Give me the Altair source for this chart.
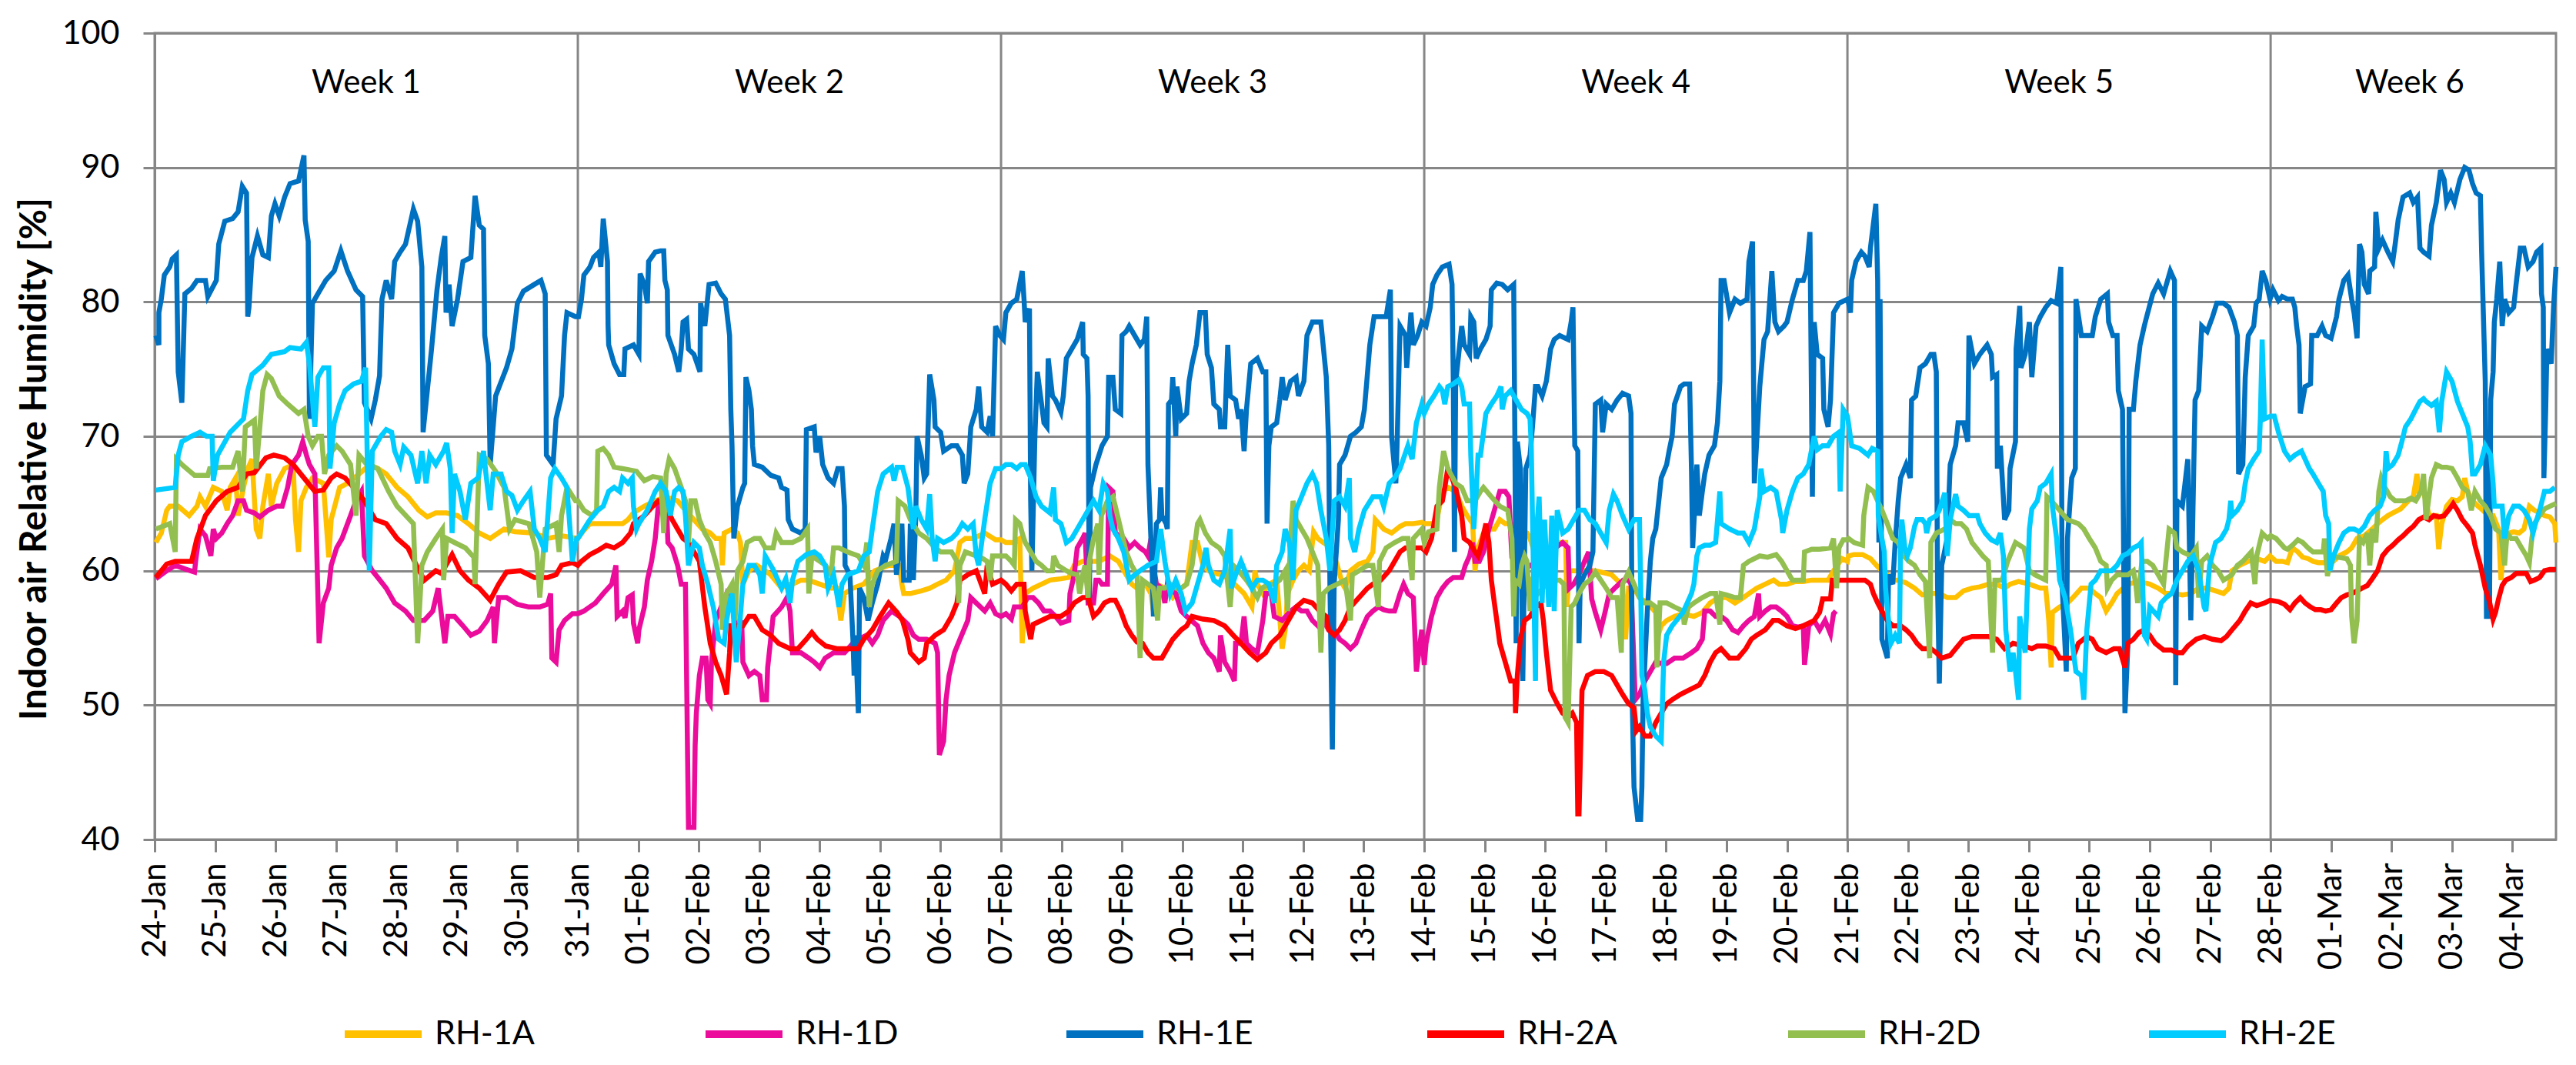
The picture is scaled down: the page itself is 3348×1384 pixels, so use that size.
import altair as alt
import pandas as pd

SERIES = ["RH-1A", "RH-1D", "RH-1E", "RH-2A", "RH-2D", "RH-2E"]
COLORS = ["#FFC000", "#EC0C9C", "#0070C0", "#FF0000", "#92BF50", "#00CCFF"]
GRID = "#868686"
FONT = "Lato"
START = pd.Timestamp("2013-01-24")

# (days since 24-Jan 00:00, relative humidity %)
rh_1a = [
    (0.02, 62.1), (0.11, 62.8), (0.20, 64.5), (0.25, 64.8), (0.39, 64.8), (0.57, 64.1), (0.70, 64.8),
    (0.75, 65.5), (0.84, 64.8), (0.97, 66.2), (1.11, 65.9), (1.20, 64.5), (1.25, 66.2), (1.34, 66.9),
    (1.38, 64.1), (1.47, 66.2), (1.54, 67.6), (1.61, 68.3), (1.68, 63.1), (1.74, 62.4), (1.79, 64.8),
    (1.88, 67.2), (1.93, 64.8), (2.02, 66.5), (2.15, 67.6), (2.29, 67.9), (2.33, 63.8), (2.38, 61.4),
    (2.42, 65.2), (2.51, 66.2), (2.61, 66.9), (2.79, 66.5), (2.88, 61.0), (2.92, 63.8), (3.06, 66.2),
    (3.19, 66.5), (3.38, 67.2), (3.56, 67.9), (3.69, 67.6), (3.83, 67.2), (4.01, 66.2), (4.19, 65.5),
    (4.37, 64.5), (4.51, 64.0), (4.65, 64.3), (4.83, 64.3), (5.01, 64.1), (5.19, 63.5), (5.37, 62.8),
    (5.55, 62.4), (5.78, 63.1), (5.96, 62.9), (6.28, 62.8), (6.50, 62.4), (6.73, 62.6),
    (7.00, 62.4), (7.06, 62.8), (7.20, 63.5), (7.38, 63.5), (7.74, 63.5), (7.83, 63.8), (7.92, 64.3),
    (8.10, 64.8), (8.28, 65.2), (8.46, 65.5), (8.65, 65.2), (8.78, 64.5), (8.92, 63.8), (9.06, 63.1),
    (9.19, 62.8), (9.28, 62.4), (9.37, 62.4), (9.39, 60.4), (9.42, 62.8), (9.55, 63.1), (9.64, 62.8),
    (9.69, 62.1), (9.73, 59.0), (9.83, 60.0), (9.96, 60.4), (10.10, 60.0), (10.19, 59.7), (10.37, 58.7),
    (10.46, 59.0), (10.55, 59.0), (10.69, 59.3), (10.82, 59.3), (11.00, 59.0), (11.19, 58.7), (11.28, 58.7),
    (11.35, 56.3), (11.41, 58.3), (11.55, 58.7), (11.73, 59.0), (11.91, 60.0), (12.14, 60.4), (12.32, 60.4),
    (12.36, 59.0), (12.39, 58.3), (12.50, 58.3), (12.68, 58.5), (12.82, 58.7), (12.95, 59.0), (13.09, 59.3),
    (13.23, 60.0), (13.32, 62.1), (13.41, 62.4), (13.54, 62.4), (13.73, 62.8), (13.91, 62.3),
    (14.00, 62.3), (14.08, 62.1), (14.22, 62.1), (14.31, 62.4), (14.35, 54.6), (14.40, 58.3), (14.53, 58.7),
    (14.67, 59.0), (14.81, 59.3), (14.99, 59.4), (15.12, 59.5), (15.21, 60.4), (15.35, 60.7), (15.48, 60.7),
    (15.62, 60.7), (15.80, 61.1), (15.94, 60.7), (16.07, 59.7), (16.16, 59.0), (16.25, 58.7), (16.39, 59.0),
    (16.48, 58.3), (16.52, 57.0), (16.57, 59.0), (16.71, 58.7), (16.84, 58.0), (16.98, 58.7), (17.07, 59.0),
    (17.16, 62.1), (17.25, 62.1), (17.34, 60.4), (17.43, 60.0), (17.52, 59.8), (17.66, 59.7), (17.79, 59.3),
    (17.93, 58.7), (18.02, 58.3), (18.15, 57.3), (18.20, 60.0), (18.24, 59.0), (18.33, 58.3), (18.43, 59.0),
    (18.56, 59.3), (18.65, 54.2), (18.70, 55.6), (18.74, 58.3), (18.83, 59.3), (18.92, 60.0), (19.01, 60.4),
    (19.10, 60.0), (19.17, 62.9), (19.24, 62.4), (19.33, 62.1), (19.47, 61.7), (19.56, 60.4), (19.65, 59.0),
    (19.69, 58.7), (19.78, 60.0), (19.92, 60.5), (20.06, 60.7), (20.15, 61.4), (20.19, 63.8), (20.33, 63.1),
    (20.46, 62.8), (20.60, 63.3), (20.69, 63.5), (20.82, 63.5), (20.96, 63.6),
    (21.00, 63.5), (21.14, 63.5), (21.21, 63.8), (21.30, 65.9), (21.39, 66.2), (21.52, 65.9), (21.62, 64.8),
    (21.71, 64.1), (21.80, 63.5), (21.84, 60.0), (21.89, 61.7), (21.98, 62.8), (22.07, 63.1), (22.16, 63.1),
    (22.25, 63.8), (22.34, 63.5), (22.43, 63.5), (22.57, 63.1), (22.70, 62.8), (22.75, 62.4), (22.84, 61.1),
    (22.97, 60.4), (23.06, 61.4), (23.20, 62.1), (23.34, 62.1), (23.36, 57.3), (23.40, 60.0), (23.47, 60.0),
    (23.65, 60.0), (23.83, 60.0), (23.92, 59.9), (24.10, 59.7), (24.19, 59.3), (24.28, 59.0), (24.33, 54.9),
    (24.38, 58.7), (24.47, 58.7), (24.56, 58.0), (24.69, 57.6), (24.83, 56.9), (24.87, 55.2), (24.92, 55.9),
    (25.01, 56.3), (25.14, 56.6), (25.28, 56.8), (25.46, 56.6), (25.60, 56.9), (25.73, 57.6), (25.87, 58.0),
    (26.00, 58.0), (26.14, 57.6), (26.28, 58.0), (26.37, 58.3), (26.50, 58.7), (26.64, 59.0), (26.78, 59.3),
    (26.87, 59.0), (27.00, 59.0), (27.14, 59.2), (27.27, 59.2), (27.41, 59.3), (27.54, 59.3), (27.68, 59.3),
    (27.77, 60.0), (27.91, 60.9),
    (28.00, 60.7), (28.02, 61.1), (28.11, 61.2), (28.25, 61.2), (28.38, 60.9), (28.48, 60.4), (28.57, 60.0),
    (28.66, 59.7), (28.75, 59.3), (28.84, 59.3), (28.97, 59.1), (29.11, 58.7), (29.24, 58.2), (29.38, 58.3),
    (29.52, 58.3), (29.65, 58.0), (29.79, 58.0), (29.92, 58.5), (30.06, 58.7), (30.19, 58.8), (30.33, 59.0),
    (30.47, 59.0), (30.60, 58.7), (30.69, 59.0), (30.83, 59.2), (31.01, 59.0), (31.19, 58.7), (31.28, 58.7),
    (31.33, 56.3), (31.37, 52.8), (31.39, 56.9), (31.51, 57.3), (31.64, 57.6), (31.73, 58.0), (31.87, 58.7),
    (32.00, 58.7), (32.10, 58.3), (32.19, 58.0), (32.28, 57.0), (32.37, 57.6), (32.46, 58.3), (32.64, 59.0),
    (32.82, 59.2), (33.00, 59.0), (33.14, 58.7), (33.27, 58.3), (33.41, 58.3), (33.54, 58.2), (33.68, 58.3),
    (33.81, 58.7), (33.95, 58.7), (34.09, 58.5), (34.22, 58.3), (34.31, 58.7), (34.36, 60.0), (34.49, 60.4),
    (34.63, 60.7), (34.77, 60.9), (34.90, 60.7), (34.99, 61.1),
    (35.09, 60.7), (35.19, 60.7), (35.28, 60.6), (35.36, 61.7), (35.45, 61.4), (35.53, 61.0), (35.62, 60.9),
    (35.70, 60.7), (35.79, 60.6), (35.87, 60.6), (35.96, 60.6), (36.04, 60.7), (36.13, 61.1), (36.26, 61.4),
    (36.34, 61.7), (36.43, 62.4), (36.55, 62.6), (36.68, 63.1), (36.77, 63.5), (36.85, 63.8), (36.94, 64.1),
    (37.02, 64.3), (37.15, 64.6), (37.28, 65.2), (37.36, 65.5), (37.42, 67.2), (37.45, 65.9), (37.53, 65.9),
    (37.62, 64.1), (37.74, 64.1), (37.78, 61.6), (37.83, 63.5), (37.91, 64.8), (38.00, 65.3), (38.09, 65.2),
    (38.17, 65.5), (38.21, 66.9), (38.26, 65.9), (38.34, 65.2), (38.43, 64.8), (38.51, 64.5), (38.60, 64.1),
    (38.68, 64.1), (38.77, 63.1), (38.81, 59.3), (38.85, 61.7), (38.94, 62.8), (39.02, 62.9), (39.11, 62.8),
    (39.19, 63.1), (39.28, 64.8), (39.36, 64.5), (39.45, 64.3), (39.53, 64.1), (39.62, 64.0), (39.70, 63.5),
    (39.72, 62.1),
]

rh_1d = [
    (0.02, 59.4), (0.20, 60.0), (0.34, 60.4), (0.52, 60.1), (0.66, 59.9), (0.68, 60.8), (0.75, 63.1),
    (0.84, 62.6), (0.93, 61.1), (0.97, 63.1), (1.02, 62.4), (1.11, 62.8), (1.20, 63.5), (1.29, 64.1),
    (1.38, 65.2), (1.47, 65.2), (1.52, 64.5), (1.65, 64.3), (1.74, 64.0), (1.88, 64.5), (2.02, 64.8),
    (2.11, 64.8), (2.20, 66.2), (2.27, 67.9), (2.38, 68.6), (2.45, 69.6), (2.51, 68.6), (2.56, 67.9),
    (2.65, 67.2), (2.72, 54.6), (2.79, 57.6), (2.88, 58.7), (2.92, 60.4), (3.01, 61.7), (3.10, 62.4),
    (3.24, 64.1), (3.33, 65.2), (3.42, 65.9), (3.47, 61.1), (3.60, 60.0), (3.69, 59.5), (3.83, 58.7),
    (3.97, 57.6), (4.15, 57.0), (4.28, 56.3), (4.46, 56.3), (4.60, 57.0), (4.69, 58.7), (4.80, 54.6),
    (4.85, 56.6), (4.96, 56.6), (5.10, 55.9), (5.23, 55.2), (5.37, 55.5), (5.50, 56.3), (5.60, 57.3),
    (5.62, 54.6), (5.69, 58.0), (5.82, 58.0), (6.00, 57.5), (6.19, 57.3), (6.37, 57.3), (6.50, 57.5),
    (6.55, 58.3), (6.57, 53.5), (6.64, 53.2), (6.69, 55.6), (6.78, 56.3), (6.91, 56.8),
    (7.00, 56.8), (7.10, 57.0), (7.29, 57.6), (7.42, 58.3), (7.56, 59.0), (7.63, 60.4), (7.65, 56.6),
    (7.74, 57.0), (7.78, 56.5), (7.83, 58.0), (7.90, 58.2), (7.92, 56.1), (7.99, 54.6), (8.01, 55.6),
    (8.10, 57.3), (8.15, 59.3), (8.22, 60.7), (8.28, 62.4), (8.33, 64.8), (8.37, 65.2), (8.46, 65.5),
    (8.49, 62.1), (8.56, 61.7), (8.65, 60.4), (8.71, 59.0), (8.78, 59.0), (8.83, 40.9), (8.92, 40.9),
    (8.94, 47.0), (8.96, 49.4), (9.01, 52.2), (9.06, 53.5), (9.12, 53.5), (9.15, 50.4), (9.19, 50.1),
    (9.21, 53.2), (9.28, 56.3), (9.37, 57.3), (9.46, 58.3), (9.55, 57.6), (9.64, 55.2), (9.71, 56.3),
    (9.73, 53.2), (9.83, 52.2), (9.92, 52.5), (10.01, 52.2), (10.05, 50.4), (10.12, 50.4), (10.14, 52.8),
    (10.19, 54.9), (10.23, 56.6), (10.37, 57.3), (10.46, 58.0), (10.51, 57.0), (10.55, 53.9), (10.69, 53.9),
    (10.82, 53.5), (10.91, 53.2), (11.00, 52.8), (11.09, 53.5), (11.23, 53.9), (11.41, 53.9), (11.55, 54.6),
    (11.64, 54.9), (11.78, 55.2), (11.87, 54.6), (11.96, 55.2), (12.05, 56.3), (12.19, 57.0), (12.32, 56.6),
    (12.46, 56.0), (12.55, 55.2), (12.64, 54.9), (12.77, 54.9), (12.91, 54.6), (12.95, 53.9), (12.98, 46.3),
    (13.05, 47.3), (13.09, 50.4), (13.14, 52.2), (13.23, 53.9), (13.32, 54.9), (13.45, 56.3), (13.50, 58.0),
    (13.59, 57.6), (13.73, 57.0), (13.82, 57.6), (13.91, 56.8),
    (14.00, 56.6), (14.08, 56.8), (14.17, 56.4), (14.22, 57.3), (14.35, 57.3), (14.44, 58.0), (14.53, 58.0),
    (14.62, 57.6), (14.71, 57.0), (14.81, 57.0), (14.90, 56.6), (14.99, 56.1), (15.12, 56.3), (15.14, 58.3),
    (15.21, 59.7), (15.26, 61.7), (15.35, 62.4), (15.39, 62.8), (15.44, 57.6), (15.53, 57.6), (15.57, 59.3),
    (15.62, 59.3), (15.67, 59.0), (15.76, 59.0), (15.78, 66.2), (15.85, 65.9), (15.89, 62.8), (16.03, 62.4),
    (16.12, 61.7), (16.21, 62.1), (16.30, 61.7), (16.39, 61.4), (16.43, 61.1), (16.48, 62.4), (16.52, 60.4),
    (16.57, 59.0), (16.66, 58.7), (16.71, 57.6), (16.75, 59.0), (16.89, 58.3), (16.98, 57.0), (17.07, 56.6),
    (17.25, 55.9), (17.34, 54.6), (17.43, 53.9), (17.52, 53.5), (17.61, 52.5), (17.63, 55.2), (17.70, 53.2),
    (17.79, 52.5), (17.86, 51.8), (17.88, 54.6), (17.97, 54.6), (18.02, 56.6), (18.06, 54.6), (18.15, 54.2),
    (18.24, 53.9), (18.33, 56.3), (18.38, 58.3), (18.47, 58.3), (18.52, 56.6), (18.65, 56.3), (18.79, 57.0),
    (18.88, 57.3), (18.97, 57.0), (19.06, 57.0), (19.15, 56.3), (19.24, 55.9), (19.33, 56.3), (19.42, 55.6),
    (19.51, 55.6), (19.60, 54.9), (19.69, 54.6), (19.78, 54.2), (19.87, 54.6), (19.96, 55.6), (20.06, 56.6),
    (20.15, 57.0), (20.24, 57.3), (20.33, 57.1), (20.42, 57.0), (20.51, 57.0), (20.60, 58.3), (20.66, 59.0),
    (20.73, 58.3), (20.82, 58.0), (20.87, 52.5), (20.91, 53.9), (20.96, 55.6),
    (21.00, 53.0), (21.03, 54.6), (21.12, 56.6), (21.21, 58.0), (21.30, 58.7), (21.39, 59.2), (21.48, 59.5),
    (21.62, 59.5), (21.68, 60.4), (21.75, 61.1), (21.80, 62.1), (21.84, 60.7), (21.91, 60.7), (21.98, 61.4),
    (22.07, 63.1), (22.16, 64.5), (22.25, 65.9), (22.34, 65.9), (22.40, 65.5), (22.45, 61.0), (22.60, 60.0),
    (22.80, 60.5), (23.00, 61.0), (23.08, 61.4), (23.29, 62.1), (23.38, 61.7), (23.40, 58.7), (23.47, 59.0),
    (23.56, 59.7), (23.65, 60.7), (23.72, 61.4), (23.77, 57.9), (23.83, 56.9), (23.92, 55.6), (23.99, 56.9),
    (24.06, 58.3), (24.15, 58.7), (24.29, 59.3), (24.38, 59.3), (24.42, 59.0), (24.49, 50.4), (24.56, 50.8),
    (24.65, 51.8), (24.74, 52.5), (24.83, 53.2), (24.92, 53.1), (25.01, 53.1), (25.14, 53.5), (25.28, 53.5),
    (25.42, 53.9), (25.51, 54.2), (25.60, 54.9), (25.64, 57.0), (25.73, 57.0), (25.82, 56.6), (25.91, 56.6),
    (26.00, 56.3), (26.10, 55.6), (26.19, 55.4), (26.28, 55.9), (26.37, 56.3), (26.46, 56.6), (26.53, 58.3),
    (26.55, 56.6), (26.64, 57.0), (26.73, 57.3), (26.82, 57.3), (26.91, 57.0), (27.00, 56.6), (27.09, 55.9),
    (27.18, 55.8), (27.27, 55.9), (27.29, 53.0), (27.36, 55.9), (27.45, 56.3), (27.54, 55.6), (27.63, 56.3),
    (27.72, 55.3), (27.77, 56.8), (27.81, 57.0),
]

rh_1e = [
    (0.02, 77.5), (0.07, 76.8), (0.07, 79.2), (0.11, 80.2), (0.16, 82.0), (0.25, 82.6), (0.29, 83.2),
    (0.36, 83.5), (0.39, 74.8), (0.45, 72.5), (0.50, 80.6), (0.61, 81.0), (0.70, 81.6), (0.84, 81.6),
    (0.88, 80.4), (1.02, 81.6), (1.06, 84.3), (1.16, 86.0), (1.29, 86.2), (1.38, 86.7), (1.45, 88.6),
    (1.52, 88.1), (1.54, 78.9), (1.56, 79.6), (1.61, 83.3), (1.70, 84.9), (1.79, 83.5), (1.88, 83.3),
    (1.93, 86.4), (1.99, 87.3), (2.06, 86.4), (2.15, 87.8), (2.24, 88.8), (2.38, 89.0), (2.47, 90.9),
    (2.49, 86.1), (2.54, 84.5), (2.56, 71.3), (2.61, 79.9), (2.70, 80.6), (2.83, 81.6), (2.97, 82.3),
    (3.08, 83.8), (3.19, 82.3), (3.33, 80.9), (3.44, 80.4), (3.47, 72.5), (3.58, 71.3), (3.65, 72.7),
    (3.72, 74.5), (3.76, 80.2), (3.83, 81.6), (3.92, 80.2), (3.97, 83.0), (4.06, 83.7), (4.15, 84.3),
    (4.28, 86.9), (4.35, 86.0), (4.42, 82.6), (4.44, 70.3), (4.51, 73.4), (4.58, 76.5), (4.67, 80.9),
    (4.74, 83.3), (4.80, 84.9), (4.82, 79.2), (4.87, 81.3), (4.92, 78.2), (5.01, 80.2), (5.10, 83.0),
    (5.23, 83.3), (5.30, 87.9), (5.37, 85.7), (5.44, 85.4), (5.46, 77.5), (5.52, 75.4), (5.55, 67.9),
    (5.64, 73.0), (5.82, 75.1), (5.91, 76.5), (6.00, 79.9), (6.10, 80.8), (6.28, 81.3), (6.39, 81.6),
    (6.46, 80.6), (6.48, 68.6), (6.59, 67.9), (6.64, 71.3), (6.73, 73.0), (6.78, 77.5), (6.82, 79.2),
    (6.96, 78.9),
    (7.01, 78.9), (7.06, 80.2), (7.10, 82.0), (7.20, 82.6), (7.26, 83.3), (7.35, 83.7), (7.38, 82.6),
    (7.42, 86.2), (7.49, 83.0), (7.50, 78.2), (7.51, 76.8), (7.60, 75.4), (7.69, 74.6), (7.76, 74.6),
    (7.78, 76.5), (7.92, 76.8), (8.01, 76.1), (8.03, 82.1), (8.10, 81.3), (8.15, 79.9), (8.17, 83.0),
    (8.28, 83.7), (8.37, 83.8), (8.42, 83.8), (8.44, 81.6), (8.48, 80.9), (8.49, 77.5), (8.60, 76.1),
    (8.67, 74.8), (8.71, 76.5), (8.74, 78.5), (8.80, 78.7), (8.83, 76.5), (8.92, 76.1), (9.02, 74.8),
    (9.03, 79.9), (9.10, 78.2), (9.17, 81.3), (9.28, 81.4), (9.37, 80.6), (9.44, 80.2), (9.51, 77.5),
    (9.53, 72.0), (9.55, 69.3), (9.58, 62.4), (9.64, 64.8), (9.73, 66.2), (9.76, 66.5), (9.78, 74.4),
    (9.83, 73.4), (9.87, 72.0), (9.89, 69.3), (9.92, 67.9), (10.05, 67.7), (10.19, 67.1), (10.32, 66.9),
    (10.37, 66.2), (10.46, 66.0), (10.48, 63.8), (10.55, 63.1), (10.69, 62.8), (10.76, 63.1), (10.78, 70.5),
    (10.91, 70.7), (10.94, 68.8), (11.00, 70.0), (11.05, 67.9), (11.14, 66.9), (11.23, 66.5), (11.30, 67.6),
    (11.37, 67.6), (11.41, 64.8), (11.42, 60.4), (11.50, 59.7), (11.55, 54.9), (11.57, 52.2), (11.59, 55.2),
    (11.64, 49.4), (11.66, 58.7), (11.73, 58.0), (11.80, 56.3), (11.87, 57.6), (11.96, 59.0), (12.05, 61.1),
    (12.09, 60.8), (12.18, 62.4), (12.23, 63.5), (12.27, 59.7), (12.36, 63.5), (12.39, 59.3), (12.48, 59.3),
    (12.50, 63.5), (12.55, 59.3), (12.59, 64.1), (12.61, 70.0), (12.68, 68.6), (12.73, 66.9), (12.77, 67.2),
    (12.82, 74.6), (12.89, 72.7), (12.91, 70.7), (13.00, 70.3), (13.05, 68.9), (13.18, 69.3), (13.27, 69.3),
    (13.36, 68.6), (13.39, 66.5), (13.45, 67.2), (13.50, 70.7), (13.59, 72.0), (13.63, 73.7), (13.68, 70.7),
    (13.77, 70.3), (13.82, 71.5), (13.86, 70.0), (13.91, 78.2), (13.98, 77.5),
    (14.04, 77.2), (14.08, 79.2), (14.17, 79.9), (14.26, 80.2), (14.35, 82.3), (14.38, 80.2), (14.40, 78.5),
    (14.47, 79.5), (14.49, 65.2), (14.51, 60.0), (14.56, 70.0), (14.60, 74.8), (14.67, 72.4), (14.71, 71.0),
    (14.76, 70.7), (14.78, 75.8), (14.85, 73.0), (14.90, 72.7), (14.99, 71.8), (15.03, 73.0), (15.08, 75.8),
    (15.17, 76.5), (15.26, 77.2), (15.35, 78.5), (15.36, 76.1), (15.42, 75.8), (15.44, 73.0), (15.46, 57.6),
    (15.48, 66.2), (15.57, 67.9), (15.67, 69.3), (15.76, 70.0), (15.78, 74.4), (15.85, 74.4), (15.89, 72.0),
    (15.98, 71.7), (16.00, 77.5), (16.07, 77.8), (16.12, 78.2), (16.21, 77.5), (16.30, 76.8), (16.37, 77.2),
    (16.41, 78.9), (16.43, 67.9), (16.50, 60.0), (16.52, 56.6), (16.57, 63.5), (16.62, 63.8), (16.64, 66.2),
    (16.66, 64.1), (16.73, 63.5), (16.75, 63.1), (16.77, 72.4), (16.82, 72.7), (16.84, 74.4), (16.89, 70.0),
    (16.91, 73.7), (16.98, 71.3), (17.07, 71.7), (17.11, 74.1), (17.16, 75.4), (17.23, 76.8), (17.29, 79.2),
    (17.38, 79.2), (17.41, 76.1), (17.48, 75.1), (17.52, 72.4), (17.61, 72.0), (17.63, 70.7), (17.70, 70.7),
    (17.75, 76.8), (17.79, 73.0), (17.88, 72.7), (17.93, 71.3), (17.97, 72.0), (18.02, 68.9), (18.06, 72.0),
    (18.13, 75.4), (18.24, 75.8), (18.33, 74.8), (18.38, 74.8), (18.40, 63.5), (18.43, 69.3), (18.47, 70.7),
    (18.56, 71.0), (18.61, 72.7), (18.65, 74.4), (18.70, 72.7), (18.79, 74.1), (18.88, 74.4), (18.92, 73.0),
    (19.01, 74.1), (19.06, 77.5), (19.15, 78.5), (19.29, 78.5), (19.38, 74.4), (19.42, 69.3), (19.44, 59.0),
    (19.48, 46.7), (19.51, 59.0), (19.58, 63.8), (19.60, 67.9), (19.69, 68.6), (19.78, 70.0), (19.87, 70.3),
    (19.96, 70.7), (20.01, 72.0), (20.05, 74.1), (20.10, 76.8), (20.17, 78.9), (20.28, 78.9), (20.37, 78.9),
    (20.44, 80.9), (20.46, 70.0), (20.53, 66.5), (20.55, 69.3), (20.60, 78.2), (20.69, 77.5), (20.71, 75.1),
    (20.78, 79.2), (20.82, 76.8), (20.89, 77.5), (20.96, 78.5),
    (21.03, 78.2), (21.10, 79.6), (21.14, 81.3), (21.21, 82.0), (21.30, 82.6), (21.41, 82.8), (21.46, 81.3),
    (21.48, 74.4), (21.50, 61.4), (21.52, 74.0), (21.57, 76.1), (21.62, 78.2), (21.66, 76.8), (21.75, 76.1),
    (21.77, 78.9), (21.82, 78.5), (21.86, 75.8), (21.93, 76.5), (22.02, 77.2), (22.09, 78.2), (22.11, 80.9),
    (22.20, 81.4), (22.29, 81.3), (22.38, 80.9), (22.48, 81.3), (22.50, 69.3), (22.52, 54.6), (22.54, 69.6),
    (22.59, 67.6), (22.63, 51.8), (22.68, 67.6), (22.75, 68.6), (22.79, 70.7), (22.84, 73.7), (22.88, 73.7),
    (22.95, 73.0), (23.02, 74.1), (23.09, 76.5), (23.15, 77.2), (23.24, 77.5), (23.38, 77.2), (23.43, 78.5),
    (23.46, 79.6), (23.49, 69.3), (23.54, 68.9), (23.56, 54.6), (23.58, 59.0), (23.65, 59.7), (23.74, 60.4),
    (23.79, 61.4), (23.83, 72.4), (23.92, 72.7), (23.95, 70.3), (24.01, 72.4), (24.10, 72.0), (24.19, 72.7),
    (24.28, 73.2), (24.38, 73.0), (24.42, 71.7), (24.44, 50.4), (24.47, 43.9), (24.53, 41.5), (24.58, 41.5),
    (24.60, 43.9), (24.62, 50.4), (24.69, 57.0), (24.74, 60.7), (24.78, 62.4), (24.83, 63.1), (24.92, 66.9),
    (25.01, 67.9), (25.05, 68.9), (25.10, 70.0), (25.14, 72.4), (25.24, 73.7), (25.30, 73.9), (25.39, 73.9),
    (25.42, 67.6), (25.44, 61.7), (25.51, 67.9), (25.55, 64.1), (25.60, 65.9), (25.64, 67.2), (25.71, 68.6),
    (25.80, 69.3), (25.85, 71.0), (25.89, 74.1), (25.91, 81.6), (25.96, 81.6), (26.05, 79.2), (26.14, 80.2),
    (26.23, 79.9), (26.34, 80.2), (26.37, 83.0), (26.43, 84.5), (26.46, 66.5), (26.55, 73.7), (26.62, 77.2),
    (26.68, 77.8), (26.75, 82.3), (26.80, 78.5), (26.86, 77.8), (26.95, 78.2), (27.00, 78.5), (27.09, 80.2),
    (27.18, 81.6), (27.27, 81.6), (27.32, 82.3), (27.38, 85.2), (27.42, 65.5), (27.45, 78.5), (27.50, 76.1),
    (27.59, 75.8), (27.61, 72.0), (27.68, 70.7), (27.72, 72.7), (27.77, 79.2), (27.86, 79.9), (28.00, 80.2),
    (28.02, 79.9), (28.05, 79.2), (28.07, 81.6), (28.14, 83.0), (28.23, 83.7), (28.29, 83.4), (28.36, 82.6),
    (28.38, 84.0), (28.47, 87.3), (28.50, 81.6), (28.52, 62.1), (28.54, 80.2), (28.57, 54.9), (28.66, 53.5),
    (28.68, 59.7), (28.75, 59.0), (28.79, 62.1), (28.84, 65.2), (28.88, 66.9), (28.97, 67.9), (29.04, 66.9),
    (29.06, 72.7), (29.13, 73.0), (29.20, 75.1), (29.29, 75.4), (29.38, 76.1), (29.43, 76.1), (29.47, 74.8),
    (29.49, 59.0), (29.52, 51.6), (29.56, 60.4), (29.65, 62.4), (29.70, 67.9), (29.79, 69.3), (29.83, 71.0),
    (29.92, 71.0), (29.99, 69.6), (30.01, 77.5), (30.10, 75.4), (30.19, 76.1), (30.31, 76.8), (30.38, 76.1),
    (30.40, 74.4), (30.47, 74.6), (30.48, 67.6), (30.53, 69.3), (30.60, 63.8), (30.67, 64.5), (30.69, 67.6),
    (30.78, 69.6), (30.79, 76.5), (30.85, 79.7), (30.87, 75.1), (30.94, 76.1), (31.01, 78.5), (31.05, 74.4),
    (31.12, 78.2), (31.19, 78.9), (31.28, 79.6), (31.37, 80.1), (31.46, 79.9), (31.53, 82.6), (31.55, 59.0),
    (31.62, 52.5), (31.64, 62.4), (31.71, 66.9), (31.77, 67.6), (31.78, 80.2), (31.87, 77.5), (31.96, 77.5),
    (32.05, 77.5), (32.10, 78.9), (32.19, 80.2), (32.30, 80.6), (32.32, 78.5), (32.39, 77.5), (32.46, 77.5),
    (32.48, 73.4), (32.55, 72.0), (32.59, 49.4), (32.64, 54.6), (32.66, 72.0), (32.73, 72.0), (32.77, 74.1),
    (32.84, 76.8), (32.91, 78.2), (32.95, 78.9), (33.05, 80.6), (33.14, 81.4), (33.23, 80.6), (33.34, 82.3),
    (33.41, 81.6), (33.43, 51.5), (33.45, 65.2), (33.54, 64.8), (33.63, 68.3), (33.68, 56.3), (33.75, 72.7),
    (33.81, 73.4), (33.86, 78.2), (33.95, 77.8), (34.04, 78.9), (34.11, 79.9), (34.22, 79.9), (34.31, 79.6),
    (34.40, 78.5), (34.45, 77.5), (34.47, 67.2), (34.54, 67.9), (34.58, 74.4), (34.63, 77.5), (34.72, 78.2),
    (34.76, 79.9), (34.81, 80.2), (34.86, 82.3), (34.92, 81.6), (34.99, 80.2),
    (35.04, 80.9), (35.13, 80.1), (35.19, 80.4), (35.28, 80.2), (35.36, 80.2), (35.40, 79.6), (35.43, 78.2),
    (35.47, 76.8), (35.49, 71.7), (35.53, 72.7), (35.57, 73.7), (35.66, 73.9), (35.68, 77.5), (35.77, 77.5),
    (35.85, 78.2), (35.91, 77.5), (36.00, 77.3), (36.09, 78.9), (36.13, 80.2), (36.21, 81.6), (36.28, 82.0),
    (36.34, 80.2), (36.38, 79.2), (36.43, 77.3), (36.47, 84.3), (36.51, 83.7), (36.55, 81.3), (36.62, 80.6),
    (36.64, 82.3), (36.72, 82.6), (36.74, 86.7), (36.79, 84.0), (36.85, 84.6), (36.94, 83.7), (37.02, 83.0),
    (37.06, 84.3), (37.11, 86.1), (37.19, 87.8), (37.30, 88.1), (37.36, 87.4), (37.43, 87.8), (37.47, 84.0),
    (37.53, 83.7), (37.62, 83.4), (37.66, 85.7), (37.74, 87.4), (37.81, 89.8), (37.87, 89.1), (37.91, 87.4),
    (37.98, 88.1), (38.04, 87.4), (38.13, 89.1), (38.21, 90.0), (38.28, 89.8), (38.34, 88.8), (38.40, 88.1),
    (38.47, 87.9), (38.49, 83.7), (38.55, 74.1), (38.57, 56.6), (38.62, 56.6), (38.64, 72.7), (38.68, 74.8),
    (38.70, 78.5), (38.74, 80.2), (38.79, 83.0), (38.83, 78.2), (38.87, 80.2), (38.94, 79.2), (39.02, 79.6),
    (39.06, 81.3), (39.13, 84.0), (39.19, 84.0), (39.26, 82.6), (39.34, 83.0), (39.40, 83.7), (39.47, 84.0),
    (39.48, 80.6), (39.51, 79.6), (39.52, 66.9), (39.55, 72.0), (39.57, 76.5), (39.64, 75.4), (39.68, 79.6),
    (39.72, 82.6),
]

rh_2a = [
    (0.02, 59.5), (0.20, 60.5), (0.34, 60.7), (0.61, 60.7), (0.70, 62.4), (0.84, 64.1), (1.02, 65.2),
    (1.20, 65.9), (1.38, 66.2), (1.52, 67.2), (1.65, 67.3), (1.84, 68.4), (1.97, 68.6), (2.15, 68.4),
    (2.29, 67.9), (2.47, 66.9), (2.65, 65.9), (2.79, 66.0), (2.92, 66.9), (3.01, 67.2), (3.15, 66.9),
    (3.29, 66.2), (3.47, 65.2), (3.65, 63.8), (3.83, 63.5), (4.01, 62.4), (4.19, 61.7), (4.33, 60.4),
    (4.46, 59.3), (4.65, 60.0), (4.74, 59.8), (4.92, 61.2), (5.05, 60.0), (5.19, 59.3), (5.37, 58.7),
    (5.55, 57.8), (5.69, 59.0), (5.82, 59.9), (6.05, 60.0), (6.28, 59.5), (6.50, 59.5), (6.64, 59.7),
    (6.73, 60.4), (6.91, 60.6),
    (7.00, 60.4), (7.06, 60.7), (7.20, 61.2), (7.33, 61.5), (7.47, 61.9), (7.60, 61.7), (7.74, 62.1),
    (7.87, 62.8), (7.92, 63.5), (8.10, 64.1), (8.24, 64.8), (8.33, 65.2), (8.46, 64.8), (8.56, 63.8),
    (8.65, 63.1), (8.74, 62.4), (8.83, 62.1), (8.92, 61.4), (9.01, 60.7), (9.10, 57.3), (9.19, 54.6),
    (9.28, 53.2), (9.37, 52.2), (9.46, 50.8), (9.51, 53.9), (9.53, 55.9), (9.64, 55.9), (9.73, 55.9),
    (9.83, 56.6), (9.92, 56.6), (10.05, 55.6), (10.19, 55.2), (10.32, 54.6), (10.51, 54.2), (10.64, 54.2),
    (10.78, 54.9), (10.87, 55.4), (10.96, 54.9), (11.10, 54.4), (11.28, 54.2), (11.46, 54.2), (11.64, 54.2),
    (11.73, 54.9), (11.87, 55.6), (12.00, 56.6), (12.14, 57.6), (12.28, 56.9), (12.37, 56.3), (12.46, 54.9),
    (12.50, 53.9), (12.64, 53.2), (12.73, 53.5), (12.77, 54.6), (12.91, 55.2), (13.05, 55.6), (13.18, 56.6),
    (13.27, 57.6), (13.32, 59.3), (13.45, 59.7), (13.59, 60.0), (13.73, 58.3), (13.77, 60.4), (13.86, 59.0),
    (14.00, 59.3), (14.08, 59.0), (14.17, 58.5), (14.26, 59.0), (14.35, 59.0), (14.38, 59.0), (14.40, 57.0),
    (14.49, 54.9), (14.53, 56.0), (14.67, 56.3), (14.81, 56.6), (14.99, 56.6), (15.12, 57.0), (15.21, 57.6),
    (15.35, 58.0), (15.44, 58.0), (15.53, 56.6), (15.62, 57.0), (15.71, 57.6), (15.80, 57.8), (15.89, 57.8),
    (15.98, 57.0), (16.07, 55.9), (16.16, 55.2), (16.25, 54.7), (16.34, 54.6), (16.43, 53.9), (16.52, 53.5),
    (16.66, 53.5), (16.75, 54.2), (16.84, 54.9), (16.98, 55.6), (17.07, 55.9), (17.16, 56.6), (17.34, 56.4),
    (17.52, 56.3), (17.70, 55.9), (17.84, 55.2), (17.97, 54.6), (18.11, 53.9), (18.24, 53.4), (18.38, 53.9),
    (18.47, 54.6), (18.61, 55.2), (18.70, 55.9), (18.79, 56.6), (18.88, 57.3), (19.01, 57.8), (19.15, 57.6),
    (19.29, 56.9), (19.38, 56.6), (19.42, 55.6), (19.51, 55.2), (19.60, 55.6), (19.69, 56.3), (19.78, 57.3),
    (19.92, 58.0), (20.06, 58.7), (20.15, 59.0), (20.28, 59.3), (20.42, 60.0), (20.51, 60.7), (20.60, 61.4),
    (20.69, 61.7), (20.78, 61.7), (20.96, 61.7),
    (21.03, 61.4), (21.12, 62.4), (21.21, 64.8), (21.30, 65.2), (21.34, 66.2), (21.39, 67.6), (21.43, 67.2),
    (21.52, 66.2), (21.62, 64.1), (21.66, 62.4), (21.75, 62.1), (21.84, 61.4), (21.89, 61.1), (21.93, 61.7),
    (22.02, 63.5), (22.07, 62.1), (22.11, 59.3), (22.16, 57.6), (22.20, 56.3), (22.25, 54.6), (22.34, 53.2),
    (22.43, 51.8), (22.50, 51.8), (22.51, 49.4), (22.54, 52.2), (22.59, 54.9), (22.66, 56.3), (22.75, 56.6),
    (22.84, 57.3), (22.93, 57.6), (22.97, 56.3), (23.02, 53.9), (23.09, 51.1), (23.20, 50.1), (23.29, 49.4),
    (23.38, 49.1), (23.45, 49.4), (23.52, 48.7), (23.54, 41.9), (23.56, 41.9), (23.61, 51.1), (23.70, 52.2),
    (23.83, 52.5), (23.97, 52.5), (24.10, 52.2), (24.19, 51.5), (24.28, 50.8), (24.38, 50.1), (24.47, 49.8),
    (24.51, 48.1), (24.56, 48.4), (24.65, 47.7), (24.74, 47.7), (24.83, 48.7), (24.92, 49.4), (25.01, 50.1),
    (25.10, 50.4), (25.24, 50.8), (25.37, 51.1), (25.55, 51.5), (25.64, 52.2), (25.73, 53.2), (25.82, 53.9),
    (25.91, 54.2), (26.05, 53.5), (26.19, 53.5), (26.32, 54.2), (26.41, 54.9), (26.50, 55.2), (26.64, 55.6),
    (26.77, 56.3), (26.86, 56.3), (27.00, 55.9), (27.14, 55.7), (27.27, 55.9), (27.45, 56.3), (27.54, 56.9),
    (27.59, 57.9), (27.72, 57.9), (27.75, 59.3), (27.86, 59.3), (28.00, 59.3),
    (28.02, 59.3), (28.16, 59.3), (28.29, 59.3), (28.38, 59.0), (28.43, 58.3), (28.50, 57.6), (28.57, 57.0),
    (28.66, 56.3), (28.75, 55.9), (28.88, 55.9), (28.97, 55.6), (29.06, 55.2), (29.15, 54.6), (29.24, 54.2),
    (29.38, 54.2), (29.47, 53.9), (29.56, 53.5), (29.70, 53.7), (29.79, 54.2), (29.92, 54.9), (30.06, 55.1),
    (30.19, 55.1), (30.33, 55.1), (30.47, 54.9), (30.60, 54.2), (30.74, 54.6), (30.92, 54.4), (31.05, 54.2),
    (31.14, 54.4), (31.28, 54.4), (31.42, 54.2), (31.51, 53.5), (31.64, 53.5), (31.73, 53.5), (31.82, 54.6),
    (31.96, 55.1), (32.05, 54.9), (32.14, 54.2), (32.28, 53.9), (32.41, 54.2), (32.50, 54.2), (32.59, 52.8),
    (32.64, 54.6), (32.73, 54.9), (32.82, 55.4), (32.91, 55.6), (33.00, 55.2), (33.09, 54.6), (33.23, 54.1),
    (33.36, 54.1), (33.45, 53.9), (33.54, 53.9), (33.63, 54.4), (33.77, 54.9), (33.90, 55.1), (34.04, 54.9),
    (34.18, 54.8), (34.27, 55.1), (34.36, 55.6), (34.49, 56.3), (34.58, 57.0), (34.67, 57.6), (34.77, 57.4),
    (34.90, 57.6), (34.99, 57.8),
    (35.13, 57.7), (35.23, 57.5), (35.32, 57.1), (35.40, 57.6), (35.49, 58.0), (35.57, 57.6), (35.66, 57.3),
    (35.74, 57.1), (35.83, 57.1), (35.91, 57.0), (36.00, 57.1), (36.09, 57.6), (36.17, 58.0), (36.26, 58.2),
    (36.34, 58.3), (36.43, 58.5), (36.51, 58.7), (36.60, 58.9), (36.68, 59.4), (36.77, 60.0), (36.85, 61.1),
    (36.94, 61.6), (37.02, 61.9), (37.11, 62.3), (37.19, 62.6), (37.28, 63.0), (37.36, 63.3), (37.45, 63.8),
    (37.53, 64.0), (37.62, 63.8), (37.70, 64.1), (37.79, 64.0), (37.87, 64.1), (37.96, 64.6), (38.02, 65.0),
    (38.09, 64.5), (38.17, 63.8), (38.26, 63.3), (38.34, 62.8), (38.38, 61.9), (38.47, 60.4), (38.55, 58.7),
    (38.62, 57.7), (38.68, 56.4), (38.72, 56.9), (38.77, 57.9), (38.83, 58.9), (38.89, 59.3), (38.98, 59.5),
    (39.06, 59.8), (39.15, 59.8), (39.23, 59.8), (39.30, 59.2), (39.36, 59.3), (39.45, 59.5), (39.53, 60.0),
    (39.62, 60.1), (39.72, 60.1),
]

rh_2d = [
    (0.02, 63.1), (0.25, 63.5), (0.34, 61.4), (0.36, 68.3), (0.45, 67.9), (0.66, 67.1), (0.88, 67.1),
    (0.91, 67.6), (1.11, 67.7), (1.29, 67.7), (1.38, 68.9), (1.45, 65.9), (1.50, 70.7), (1.65, 71.2),
    (1.68, 67.6), (1.74, 70.7), (1.79, 73.4), (1.86, 74.6), (1.93, 74.3), (2.06, 73.0), (2.20, 72.4),
    (2.38, 71.7), (2.47, 72.0), (2.54, 70.0), (2.61, 69.3), (2.70, 70.0), (2.76, 70.0), (2.81, 67.2),
    (2.88, 68.6), (3.01, 69.3), (3.10, 68.9), (3.24, 67.9), (3.33, 64.1), (3.38, 68.6), (3.51, 67.9),
    (3.69, 67.6), (3.87, 65.9), (4.01, 64.8), (4.28, 63.5), (4.35, 54.6), (4.42, 60.4), (4.51, 61.4),
    (4.65, 62.4), (4.76, 63.1), (4.78, 59.3), (4.83, 62.4), (4.96, 62.1), (5.14, 61.7), (5.28, 61.0),
    (5.30, 59.0), (5.37, 68.6), (5.50, 68.3), (5.64, 67.4), (5.78, 66.2), (5.87, 63.1), (5.96, 63.8),
    (6.19, 63.5), (6.32, 61.4), (6.37, 58.0), (6.46, 63.1), (6.64, 63.5), (6.69, 61.4), (6.73, 64.1),
    (6.82, 66.2), (6.96, 65.2),
    (7.00, 65.2), (7.10, 64.5), (7.24, 64.1), (7.31, 64.5), (7.33, 68.9), (7.42, 69.1), (7.51, 68.6),
    (7.60, 67.7), (7.74, 67.6), (7.97, 67.4), (8.10, 66.7), (8.24, 67.0), (8.37, 66.9), (8.42, 62.8),
    (8.46, 67.2), (8.51, 68.3), (8.60, 67.6), (8.71, 66.2), (8.78, 65.2), (8.83, 62.1), (8.87, 65.2),
    (8.94, 65.2), (9.01, 63.8), (9.10, 62.8), (9.19, 62.1), (9.28, 60.7), (9.37, 59.0), (9.39, 55.6),
    (9.46, 58.3), (9.55, 59.0), (9.60, 56.3), (9.64, 60.0), (9.73, 60.7), (9.80, 62.1), (9.92, 62.4),
    (10.01, 62.4), (10.10, 61.7), (10.23, 61.7), (10.28, 62.8), (10.37, 62.1), (10.55, 62.1), (10.69, 62.4),
    (10.80, 63.1), (10.82, 58.3), (10.87, 61.1), (11.00, 60.7), (11.10, 60.4), (11.19, 59.7), (11.23, 61.7),
    (11.32, 61.7), (11.46, 61.4), (11.64, 61.1), (11.73, 60.4), (11.78, 62.1), (11.82, 57.3), (11.87, 59.0),
    (11.96, 60.0), (12.09, 60.4), (12.27, 60.7), (12.30, 65.2), (12.41, 64.8), (12.50, 63.8), (12.64, 62.8),
    (12.77, 62.4), (12.91, 61.7), (13.00, 61.4), (13.18, 61.4), (13.27, 60.7), (13.30, 57.6), (13.32, 60.4),
    (13.41, 61.4), (13.59, 61.1), (13.63, 61.1), (13.77, 60.7), (13.82, 59.3), (13.86, 61.1),
    (14.00, 61.1), (14.08, 61.1), (14.17, 60.7), (14.22, 60.4), (14.24, 63.8), (14.31, 63.5), (14.35, 62.8),
    (14.40, 62.1), (14.49, 61.4), (14.58, 60.7), (14.67, 60.4), (14.76, 60.0), (14.85, 60.0), (14.87, 61.1),
    (14.94, 60.4), (15.08, 60.0), (15.17, 59.8), (15.26, 59.7), (15.30, 58.3), (15.35, 59.7), (15.39, 60.4),
    (15.44, 58.0), (15.46, 60.7), (15.53, 62.4), (15.60, 63.5), (15.62, 59.7), (15.66, 64.1), (15.76, 65.2),
    (15.85, 65.5), (15.89, 64.8), (15.98, 63.1), (16.07, 61.4), (16.16, 60.4), (16.25, 59.7), (16.30, 53.5),
    (16.34, 59.3), (16.43, 59.0), (16.52, 58.7), (16.59, 56.3), (16.62, 58.7), (16.71, 58.7), (16.80, 59.0),
    (16.89, 58.7), (16.98, 58.7), (17.07, 59.0), (17.16, 60.4), (17.25, 63.5), (17.29, 63.8), (17.38, 62.8),
    (17.48, 62.1), (17.61, 61.7), (17.70, 61.1), (17.79, 57.3), (17.84, 60.4), (17.93, 60.0), (18.06, 59.3),
    (18.15, 58.7), (18.24, 58.0), (18.31, 58.7), (18.43, 59.0), (18.52, 59.0), (18.61, 59.3), (18.70, 60.0),
    (18.74, 57.0), (18.79, 62.4), (18.83, 65.2), (18.88, 63.8), (18.97, 63.1), (19.06, 62.4), (19.15, 61.4),
    (19.24, 60.4), (19.29, 53.9), (19.33, 58.3), (19.42, 58.7), (19.56, 59.0), (19.69, 59.3), (19.78, 56.3),
    (19.81, 59.7), (19.92, 60.0), (20.06, 60.4), (20.15, 60.4), (20.24, 57.3), (20.26, 60.7), (20.37, 61.7),
    (20.51, 62.1), (20.64, 62.4), (20.73, 62.4), (20.80, 59.3), (20.82, 62.4), (20.96, 63.1),
    (21.00, 62.1), (21.07, 62.9), (21.21, 63.1), (21.25, 66.2), (21.32, 68.9), (21.39, 67.6), (21.52, 66.5),
    (21.62, 66.2), (21.71, 65.2), (21.84, 65.2), (21.93, 65.9), (21.98, 66.2), (22.11, 65.5), (22.25, 64.8),
    (22.38, 64.5), (22.45, 62.4), (22.48, 56.6), (22.50, 59.3), (22.57, 59.0), (22.61, 60.4), (22.66, 61.1),
    (22.70, 60.7), (22.75, 57.0), (22.79, 59.0), (22.88, 58.3), (23.02, 59.0), (23.15, 59.3), (23.24, 59.3),
    (23.31, 59.0), (23.33, 49.1), (23.38, 48.7), (23.43, 57.3), (23.49, 57.6), (23.56, 58.3), (23.65, 59.0),
    (23.74, 59.3), (23.83, 59.9), (23.92, 59.3), (24.01, 58.7), (24.10, 58.0), (24.19, 58.0), (24.26, 53.9),
    (24.28, 59.0), (24.38, 59.9), (24.47, 59.0), (24.56, 58.0), (24.65, 57.6), (24.74, 57.6), (24.83, 57.3),
    (24.85, 52.8), (24.90, 57.6), (25.01, 57.6), (25.14, 57.3), (25.28, 57.0), (25.30, 56.0), (25.37, 57.3),
    (25.46, 57.6), (25.60, 58.0), (25.73, 58.3), (25.82, 58.3), (25.89, 56.0), (25.91, 58.3), (26.00, 58.2),
    (26.14, 58.0), (26.23, 58.0), (26.28, 60.4), (26.37, 60.7), (26.55, 61.1), (26.68, 61.0), (26.82, 61.2),
    (26.91, 60.7), (27.00, 60.0), (27.09, 59.3), (27.18, 59.3), (27.27, 59.3), (27.29, 61.4), (27.41, 61.6),
    (27.54, 61.6), (27.72, 61.7), (27.77, 62.4), (27.82, 58.7), (27.86, 61.7), (27.93, 62.3), (28.00, 62.3),
    (28.02, 62.4), (28.11, 62.1), (28.25, 61.9), (28.27, 64.1), (28.34, 66.2), (28.43, 65.9), (28.50, 65.2),
    (28.57, 64.5), (28.66, 63.5), (28.75, 62.4), (28.84, 62.1), (28.93, 61.1), (29.02, 60.7), (29.11, 60.4),
    (29.20, 59.7), (29.29, 59.2), (29.36, 53.5), (29.38, 62.1), (29.47, 62.8), (29.61, 63.1), (29.70, 63.8),
    (29.79, 63.5), (29.88, 63.5), (29.97, 63.1), (30.06, 62.1), (30.15, 61.6), (30.24, 61.1), (30.33, 60.7),
    (30.40, 53.9), (30.44, 59.3), (30.56, 59.3), (30.65, 60.7), (30.78, 62.1), (30.92, 61.7), (31.01, 60.0),
    (31.10, 59.7), (31.28, 59.3), (31.30, 65.5), (31.37, 65.2), (31.51, 64.5), (31.64, 63.8), (31.82, 63.5),
    (31.91, 63.1), (32.00, 62.4), (32.10, 61.7), (32.19, 60.7), (32.28, 60.4), (32.30, 58.7), (32.37, 59.3),
    (32.46, 59.7), (32.55, 59.7), (32.64, 59.7), (32.73, 60.0), (32.77, 59.0), (32.80, 57.6), (32.87, 60.7),
    (32.96, 60.7), (33.05, 60.4), (33.14, 59.7), (33.23, 59.0), (33.32, 63.1), (33.41, 62.8), (33.45, 61.7),
    (33.54, 61.4), (33.68, 61.1), (33.77, 61.7), (33.81, 58.0), (33.86, 60.7), (33.95, 61.1), (34.04, 60.4),
    (34.13, 60.0), (34.22, 59.3), (34.36, 59.7), (34.45, 60.4), (34.54, 60.7), (34.68, 61.4), (34.74, 59.0),
    (34.77, 61.1), (34.86, 62.8), (34.95, 62.4),
    (35.00, 62.6), (35.09, 62.4), (35.19, 61.9), (35.23, 61.7), (35.28, 61.6), (35.36, 61.9), (35.45, 62.3),
    (35.53, 62.1), (35.62, 61.7), (35.70, 61.4), (35.79, 61.4), (35.87, 61.4), (35.89, 62.4), (35.94, 59.6),
    (36.00, 61.0), (36.13, 61.0), (36.26, 60.9), (36.32, 60.4), (36.34, 56.6), (36.38, 54.6), (36.43, 56.3),
    (36.47, 62.4), (36.53, 62.1), (36.60, 62.8), (36.64, 60.4), (36.68, 63.1), (36.74, 62.1), (36.79, 65.9),
    (36.83, 66.9), (36.89, 66.2), (36.98, 65.5), (37.06, 65.2), (37.15, 65.2), (37.23, 65.2), (37.32, 65.4),
    (37.40, 65.2), (37.49, 65.9), (37.53, 67.2), (37.57, 63.8), (37.66, 66.9), (37.74, 67.9), (37.83, 67.7),
    (37.91, 67.7), (38.00, 67.6), (38.09, 66.9), (38.17, 66.2), (38.26, 65.9), (38.32, 64.5), (38.38, 65.9),
    (38.47, 65.2), (38.55, 64.8), (38.64, 64.1), (38.72, 63.1), (38.81, 62.8), (38.87, 60.4), (38.91, 62.8),
    (38.98, 62.4), (39.06, 62.4), (39.15, 61.7), (39.23, 61.1), (39.28, 60.6), (39.32, 62.4), (39.36, 63.5),
    (39.45, 64.1), (39.53, 64.6), (39.62, 64.8), (39.72, 65.0),
]

rh_2e = [
    (0.02, 66.0), (0.34, 66.2), (0.39, 68.6), (0.45, 69.6), (0.61, 70.0), (0.75, 70.3), (0.86, 70.0),
    (0.95, 70.0), (0.97, 66.7), (1.04, 68.6), (1.25, 70.3), (1.47, 71.3), (1.54, 73.4), (1.61, 74.6),
    (1.79, 75.3), (1.93, 76.1), (2.15, 76.3), (2.24, 76.6), (2.42, 76.5), (2.51, 77.0), (2.56, 75.4),
    (2.65, 70.7), (2.70, 74.4), (2.79, 75.1), (2.88, 75.1), (2.90, 67.6), (2.97, 71.0), (3.06, 72.4),
    (3.15, 73.4), (3.29, 73.9), (3.42, 74.1), (3.49, 75.1), (3.55, 60.0), (3.60, 68.9), (3.74, 70.0),
    (3.83, 70.5), (3.92, 70.3), (3.97, 68.9), (4.06, 67.9), (4.12, 69.2), (4.24, 68.6), (4.35, 66.5),
    (4.42, 68.9), (4.49, 66.5), (4.55, 68.6), (4.65, 67.9), (4.78, 68.9), (4.83, 69.5), (4.89, 67.6),
    (4.92, 62.8), (4.96, 67.2), (5.05, 65.9), (5.14, 63.8), (5.23, 66.5), (5.35, 66.9), (5.44, 68.9),
    (5.48, 67.2), (5.55, 64.5), (5.60, 67.2), (5.73, 67.2), (5.82, 65.9), (5.91, 65.6), (6.00, 64.5),
    (6.10, 65.2), (6.21, 65.9), (6.28, 63.1), (6.37, 62.4), (6.46, 61.4), (6.55, 66.9), (6.62, 67.6),
    (6.73, 66.9), (6.82, 66.2), (6.91, 60.7), (6.98, 62.4),
    (7.00, 62.4), (7.06, 62.8), (7.20, 63.8), (7.33, 64.5), (7.42, 64.8), (7.51, 65.9), (7.60, 66.2),
    (7.69, 65.9), (7.74, 66.9), (7.83, 66.5), (7.90, 66.9), (7.92, 64.8), (7.97, 63.1), (8.01, 63.5),
    (8.15, 64.5), (8.28, 65.9), (8.37, 66.5), (8.46, 65.9), (8.53, 64.1), (8.60, 65.9), (8.67, 66.2),
    (8.74, 65.9), (8.78, 64.1), (8.83, 60.4), (8.92, 62.1), (9.01, 61.7), (9.06, 60.4), (9.15, 59.0),
    (9.24, 57.3), (9.33, 54.9), (9.42, 54.6), (9.46, 56.3), (9.51, 57.6), (9.55, 58.3), (9.62, 53.2),
    (9.67, 55.6), (9.73, 59.0), (9.83, 60.4), (9.92, 60.4), (10.01, 59.7), (10.05, 58.3), (10.10, 61.1),
    (10.23, 60.1), (10.37, 58.7), (10.44, 59.4), (10.51, 57.6), (10.55, 59.3), (10.64, 60.7), (10.78, 61.2),
    (10.91, 61.4), (11.00, 61.1), (11.09, 60.4), (11.14, 58.7), (11.23, 59.7), (11.32, 57.3), (11.37, 59.0),
    (11.46, 59.7), (11.64, 60.0), (11.73, 61.1), (11.82, 61.4), (11.87, 63.1), (11.96, 65.9), (12.05, 67.2),
    (12.19, 67.7), (12.23, 66.7), (12.28, 67.7), (12.37, 67.7), (12.46, 66.2), (12.50, 64.8), (12.55, 63.1),
    (12.59, 64.8), (12.68, 63.8), (12.77, 63.1), (12.82, 65.7), (12.86, 62.4), (12.91, 60.7), (12.95, 62.4),
    (13.05, 62.1), (13.18, 62.4), (13.27, 62.8), (13.36, 63.5), (13.45, 63.1), (13.54, 63.5), (13.59, 61.1),
    (13.63, 60.4), (13.73, 63.8), (13.82, 66.5), (13.91, 67.6),
    (14.00, 67.6), (14.08, 67.9), (14.17, 67.9), (14.26, 67.6), (14.33, 67.9), (14.40, 67.9), (14.49, 66.9),
    (14.58, 65.5), (14.67, 64.8), (14.81, 64.3), (14.87, 66.2), (14.90, 63.8), (14.99, 63.5), (15.08, 62.1),
    (15.17, 62.4), (15.26, 63.1), (15.35, 63.8), (15.44, 64.5), (15.53, 65.2), (15.62, 64.5), (15.69, 66.5),
    (15.76, 65.9), (15.80, 64.1), (15.85, 63.1), (15.94, 62.4), (16.03, 61.4), (16.12, 59.3), (16.21, 59.7),
    (16.30, 60.0), (16.43, 60.4), (16.57, 60.7), (16.64, 63.1), (16.71, 60.7), (16.80, 58.3), (16.89, 59.3),
    (16.98, 58.3), (17.05, 57.0), (17.16, 57.6), (17.25, 59.0), (17.34, 60.4), (17.39, 61.7), (17.43, 60.4),
    (17.52, 59.3), (17.61, 59.0), (17.70, 60.0), (17.79, 63.1), (17.81, 58.7), (17.88, 59.7), (17.97, 60.7),
    (18.06, 59.7), (18.15, 58.7), (18.24, 59.3), (18.33, 59.3), (18.43, 59.0), (18.52, 57.6), (18.56, 60.4),
    (18.65, 61.4), (18.70, 63.1), (18.77, 62.1), (18.83, 59.3), (18.88, 64.5), (18.97, 65.5), (19.06, 66.5),
    (19.15, 67.2), (19.22, 66.5), (19.29, 64.5), (19.38, 62.4), (19.44, 60.0), (19.51, 65.2), (19.60, 65.5),
    (19.69, 64.8), (19.76, 66.9), (19.78, 62.4), (19.85, 61.4), (19.92, 63.1), (20.01, 64.5), (20.15, 65.5),
    (20.28, 65.5), (20.33, 64.8), (20.42, 66.5), (20.51, 66.9), (20.60, 67.6), (20.73, 69.3), (20.80, 68.3),
    (20.87, 71.0), (20.96, 72.4),
    (21.00, 71.7), (21.07, 72.4), (21.16, 73.0), (21.25, 73.7), (21.30, 73.4), (21.34, 72.4), (21.39, 73.7),
    (21.48, 73.9), (21.57, 74.2), (21.62, 73.7), (21.66, 72.4), (21.75, 72.4), (21.77, 68.6), (21.82, 63.1),
    (21.86, 65.9), (21.89, 68.6), (21.93, 68.6), (21.98, 70.3), (22.02, 71.7), (22.11, 72.4), (22.20, 73.0),
    (22.27, 73.7), (22.29, 72.0), (22.34, 73.0), (22.43, 73.4), (22.52, 72.7), (22.61, 72.0), (22.70, 71.7),
    (22.75, 71.3), (22.77, 69.3), (22.79, 64.1), (22.84, 51.8), (22.86, 63.1), (22.90, 65.5), (22.95, 57.6),
    (22.99, 63.8), (23.06, 57.3), (23.11, 64.1), (23.15, 57.0), (23.20, 64.5), (23.29, 62.8), (23.38, 63.1),
    (23.47, 63.8), (23.56, 64.5), (23.65, 64.5), (23.74, 63.8), (23.83, 63.5), (23.92, 62.8), (24.01, 62.1),
    (24.06, 64.5), (24.13, 65.7), (24.19, 65.2), (24.28, 64.1), (24.38, 63.1), (24.47, 63.8), (24.56, 63.8),
    (24.58, 59.0), (24.60, 52.2), (24.65, 51.1), (24.69, 49.4), (24.74, 48.4), (24.83, 47.7), (24.92, 47.3),
    (24.96, 53.2), (25.01, 55.2), (25.10, 55.9), (25.28, 56.9), (25.42, 58.3), (25.46, 59.0), (25.51, 61.1),
    (25.55, 61.7), (25.64, 61.9), (25.73, 61.9), (25.82, 62.1), (25.89, 65.9), (25.91, 63.5), (26.05, 63.1),
    (26.19, 62.8), (26.28, 62.8), (26.37, 62.1), (26.46, 63.1), (26.55, 65.5), (26.57, 67.6), (26.62, 65.9),
    (26.73, 66.2), (26.82, 65.9), (26.91, 63.8), (26.93, 62.8), (27.00, 64.5), (27.09, 65.9), (27.18, 66.9),
    (27.27, 67.2), (27.36, 67.9), (27.45, 70.0), (27.50, 69.0), (27.59, 69.3), (27.68, 69.3), (27.77, 70.0),
    (27.86, 70.3), (27.88, 65.9), (27.93, 72.0),
    (28.00, 71.5), (28.07, 69.3), (28.20, 69.1), (28.34, 68.6), (28.41, 69.1), (28.50, 68.9), (28.51, 64.1),
    (28.57, 62.4), (28.61, 61.4), (28.63, 58.7), (28.68, 56.3), (28.72, 54.6), (28.79, 55.2), (28.86, 54.6),
    (28.88, 62.4), (28.90, 63.8), (28.95, 61.7), (28.99, 61.1), (29.04, 61.7), (29.11, 63.3), (29.15, 63.8),
    (29.24, 63.8), (29.29, 63.5), (29.31, 62.8), (29.36, 63.8), (29.47, 64.1), (29.52, 64.5), (29.61, 65.8),
    (29.65, 61.1), (29.70, 63.8), (29.79, 65.7), (29.83, 64.8), (29.92, 64.5), (30.01, 64.1), (30.15, 64.1),
    (30.19, 63.5), (30.28, 62.8), (30.38, 62.3), (30.47, 62.1), (30.53, 62.8), (30.58, 61.1), (30.62, 55.6),
    (30.69, 52.5), (30.74, 53.9), (30.78, 52.5), (30.83, 50.4), (30.85, 56.6), (30.94, 53.9), (31.01, 63.1),
    (31.05, 64.6), (31.14, 65.2), (31.19, 66.2), (31.28, 66.5), (31.37, 67.2), (31.39, 64.8), (31.46, 62.4),
    (31.51, 59.3), (31.60, 58.0), (31.69, 55.6), (31.78, 52.5), (31.87, 52.2), (31.91, 50.4), (31.96, 55.6),
    (32.03, 59.0), (32.10, 59.3), (32.19, 60.0), (32.28, 60.0), (32.37, 60.0), (32.46, 60.4), (32.55, 61.1),
    (32.64, 61.3), (32.73, 61.7), (32.82, 61.9), (32.86, 62.1), (32.91, 55.2), (32.95, 54.9), (33.00, 57.3),
    (33.14, 56.6), (33.19, 57.6), (33.27, 58.0), (33.36, 58.3), (33.45, 59.3), (33.54, 60.0), (33.63, 60.7),
    (33.72, 61.1), (33.81, 60.0), (33.90, 57.3), (33.93, 57.0), (33.99, 60.4), (34.09, 62.1), (34.18, 62.4),
    (34.27, 63.1), (34.31, 63.8), (34.34, 65.2), (34.36, 64.1), (34.45, 64.5), (34.54, 65.2), (34.58, 66.5),
    (34.63, 67.6), (34.72, 68.3), (34.81, 68.9), (34.83, 71.3), (34.86, 77.2), (34.90, 71.3),
    (35.00, 71.5), (35.06, 71.5), (35.13, 70.3), (35.23, 68.9), (35.32, 68.3), (35.40, 68.6), (35.51, 68.9),
    (35.57, 68.3), (35.64, 67.6), (35.70, 67.2), (35.79, 66.5), (35.87, 65.9), (35.91, 64.1), (35.96, 63.5),
    (35.98, 60.0), (36.04, 61.1), (36.13, 62.1), (36.21, 62.8), (36.30, 63.1), (36.38, 63.1), (36.47, 62.9),
    (36.55, 63.3), (36.64, 64.1), (36.72, 64.5), (36.81, 64.8), (36.87, 65.5), (36.91, 68.9), (36.94, 67.6),
    (37.02, 67.9), (37.11, 68.6), (37.17, 69.6), (37.23, 70.7), (37.32, 71.3), (37.40, 72.0), (37.47, 72.6),
    (37.53, 72.8), (37.57, 72.6), (37.66, 72.3), (37.74, 72.6), (37.79, 70.3), (37.83, 72.6), (37.87, 73.7),
    (37.91, 74.8), (38.00, 74.1), (38.09, 72.6), (38.17, 71.7), (38.26, 70.7), (38.30, 69.6), (38.34, 67.2),
    (38.38, 67.2), (38.47, 67.9), (38.55, 69.3), (38.64, 68.6), (38.68, 66.5), (38.70, 64.8), (38.77, 64.8),
    (38.83, 64.8), (38.87, 62.4), (38.94, 64.1), (39.02, 64.8), (39.11, 64.8), (39.19, 64.5), (39.28, 63.8),
    (39.34, 62.8), (39.38, 63.5), (39.45, 64.5), (39.53, 65.9), (39.62, 65.9), (39.70, 66.2),
]

week_names = ["Week 1", "Week 2", "Week 3", "Week 4", "Week 5", "Week 6"]
week_label_days = [3.5, 10.5, 17.5, 24.5, 31.5, 37.3]
week_line_days = [7, 14, 21, 28, 35]
WEEK_LABEL_Y = 96.3


def to_time(days):
    return START + pd.to_timedelta(days, unit="D")


frames = []
for name, pts in zip(SERIES, [rh_1a, rh_1d, rh_1e, rh_2a, rh_2d, rh_2e]):
    d = pd.DataFrame(pts, columns=["day", "rh"])
    d["time"] = to_time(d["day"])
    d["series"] = name
    frames.append(d)
data = pd.concat(frames, ignore_index=True)

weeks = pd.DataFrame({"time": to_time(pd.Series(week_label_days)), "name": week_names})
weeks["y"] = WEEK_LABEL_Y
week_lines = pd.DataFrame({"time": to_time(pd.Series(week_line_days, dtype=float))})

x_scale = alt.Scale(
    domain=[
        alt.DateTime(year=2013, month=1, date=24),
        alt.DateTime(year=2013, month=3, date=4, hours=17, minutes=17),
    ],
    nice=False,
)
y_scale = alt.Scale(domain=[40, 100], nice=False)

x_axis = alt.Axis(
    format="%d-%b",
    tickCount={"interval": "day", "step": 1},
    labelAngle=-90,
    labelFontSize=42,
    labelPadding=14,
    labelOverlap=False,
    labelFlush=False,
    tickSize=16,
    grid=False,
    title=None,
)
y_axis = alt.Axis(
    values=[40, 50, 60, 70, 80, 90, 100],
    labelFontSize=43,
    labelPadding=31,
    tickSize=15,
    title="Indoor air Relative Humidity [%]",
    titleFontSize=48,
    titleFontWeight="bold",
    titleX=-156,
    titleY=553,
    titleAlign="center",
    titleBaseline="middle",
    titleAngle=270,
)

lines = (
    alt.Chart(data)
    .mark_line(strokeWidth=6.5)
    .encode(
        x=alt.X("time:T", scale=x_scale, axis=x_axis),
        y=alt.Y("rh:Q", scale=y_scale, axis=y_axis),
        color=alt.Color(
            "series:N",
            scale=alt.Scale(domain=SERIES, range=COLORS),
            legend=alt.Legend(
                title=None,
                orient="none",
                direction="horizontal",
                columns=6,
                legendX=242,
                legendY=1246,
                symbolType="stroke",
                symbolSize=10000,
                symbolStrokeWidth=10,
                labelFontSize=43,
                labelOffset=12,
                columnPadding=198,
                gridAlign="all",
            ),
        ),
    )
)

rules = (
    alt.Chart(week_lines)
    .mark_rule(color=GRID, strokeWidth=3)
    .encode(x=alt.X("time:T", scale=x_scale))
)

week_text = (
    alt.Chart(weeks)
    .mark_text(font=FONT, fontSize=42, color="black")
    .encode(
        x=alt.X("time:T", scale=x_scale),
        y=alt.Y("y:Q", scale=y_scale),
        text="name:N",
    )
)

chart = (
    alt.layer(rules, week_text, lines)
    .properties(
        width=3121,
        height=1048,
        autosize=alt.AutoSizeParams(type="none"),
        padding={"left": 193, "top": 35, "right": 18, "bottom": 285},
    )
    .configure_view(stroke=GRID, strokeWidth=3)
    .configure_axis(
        labelFont=FONT,
        titleFont=FONT,
        labelColor="black",
        titleColor="black",
        domainColor=GRID,
        domainWidth=3,
        tickColor=GRID,
        tickWidth=3,
        gridColor=GRID,
        gridWidth=3,
    )
    .configure_legend(labelFont=FONT, labelColor="black")
)

chart.save("out.html", embed_options={"renderer": "svg", "actions": False})
